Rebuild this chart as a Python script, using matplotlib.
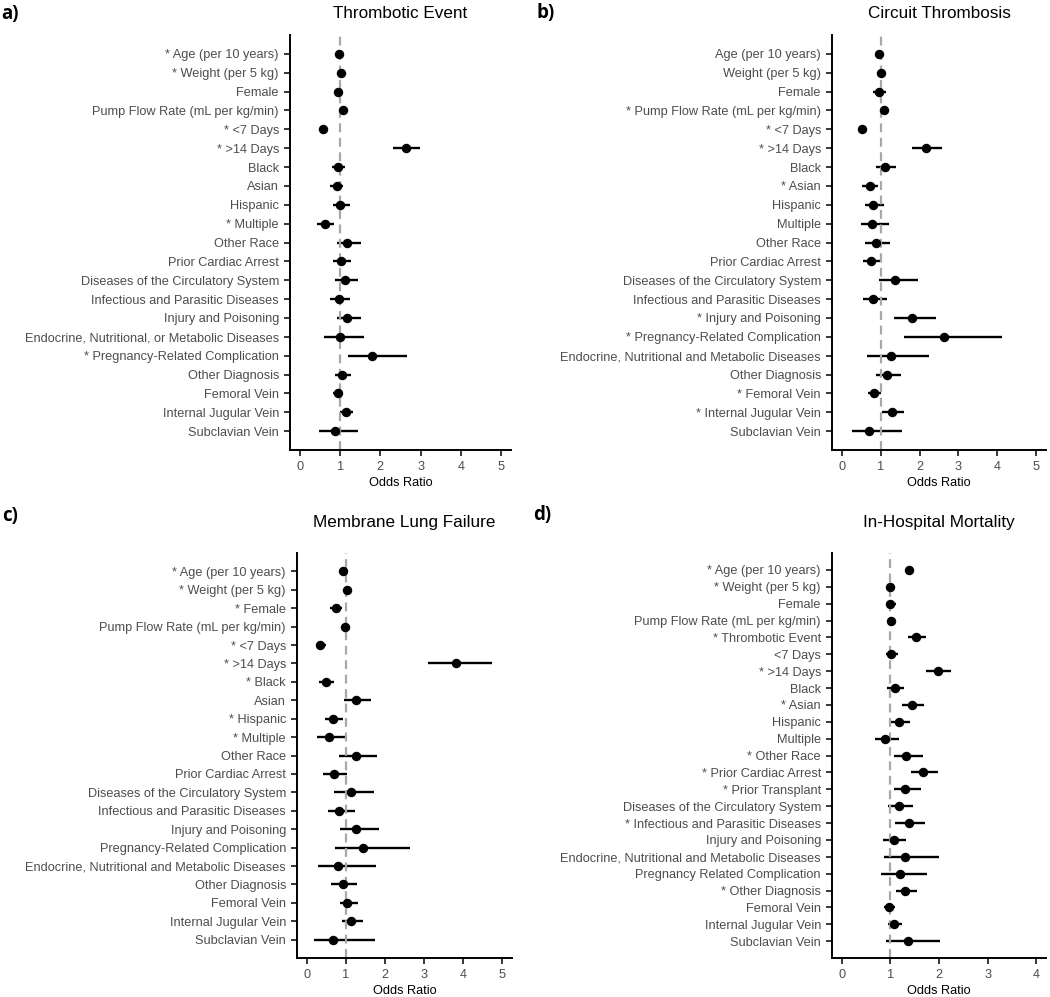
import matplotlib
matplotlib.use("Agg")
import matplotlib.pyplot as plt

plt.rcParams["font.family"] = ["Liberation Sans", "DejaVu Sans"]

W, H = 1050, 997

# a) thrombotic event
labels_a = ["* Age (per 10 years)", "* Weight (per 5 kg)", "Female", "Pump Flow Rate (mL per kg/min)",
            "* <7 Days", "* >14 Days", "Black", "Asian", "Hispanic", "* Multiple", "Other Race",
            "Prior Cardiac Arrest", "Diseases of the Circulatory System", "Infectious and Parasitic Diseases",
            "Injury and Poisoning", "Endocrine, Nutritional, or Metabolic Diseases",
            "* Pregnancy-Related Complication", "Other Diagnosis", "Femoral Vein",
            "Internal Jugular Vein", "Subclavian Vein"]
or_a = [0.98, 1.03, 0.95, 1.06, 0.58, 2.63, 0.94, 0.91, 1.00, 0.63, 1.18, 1.02, 1.11, 0.97, 1.18,
        1.00, 1.80, 1.04, 0.94, 1.14, 0.86]
lo_a = [0.95, 1.00, 0.86, 1.03, 0.52, 2.31, 0.79, 0.74, 0.82, 0.43, 0.93, 0.83, 0.86, 0.74, 0.93,
        0.60, 1.20, 0.87, 0.83, 1.00, 0.48]
hi_a = [1.01, 1.06, 1.06, 1.09, 0.65, 2.99, 1.12, 1.07, 1.24, 0.85, 1.51, 1.26, 1.44, 1.25, 1.51,
        1.60, 2.67, 1.28, 1.07, 1.31, 1.43]

# b) circuit thrombosis
labels_b = ["Age (per 10 years)", "Weight (per 5 kg)", "Female", "* Pump Flow Rate (mL per kg/min)",
            "* <7 Days", "* >14 Days", "Black", "* Asian", "Hispanic", "Multiple", "Other Race",
            "Prior Cardiac Arrest", "Diseases of the Circulatory System", "Infectious and Parasitic Diseases",
            "* Injury and Poisoning", "* Pregnancy-Related Complication",
            "Endocrine, Nutritional and Metabolic Diseases", "Other Diagnosis", "* Femoral Vein",
            "* Internal Jugular Vein", "Subclavian Vein"]
or_b = [0.97, 1.02, 0.97, 1.08, 0.51, 2.17, 1.12, 0.72, 0.81, 0.78, 0.88, 0.76, 1.38, 0.81, 1.81,
        2.62, 1.27, 1.17, 0.83, 1.29, 0.70]
lo_b = [0.94, 0.99, 0.81, 1.04, 0.42, 1.80, 0.88, 0.53, 0.59, 0.49, 0.59, 0.55, 0.97, 0.55, 1.34,
        1.61, 0.66, 0.89, 0.68, 1.03, 0.26]
hi_b = [1.00, 1.05, 1.15, 1.12, 0.63, 2.57, 1.40, 0.93, 1.09, 1.21, 1.25, 1.04, 1.95, 1.17, 2.43,
        4.12, 2.24, 1.53, 1.00, 1.59, 1.55]

# c) membrane lung failure
labels_c = ["* Age (per 10 years)", "* Weight (per 5 kg)", "* Female", "Pump Flow Rate (mL per kg/min)",
            "* <7 Days", "* >14 Days", "* Black", "Asian", "* Hispanic", "* Multiple", "Other Race",
            "Prior Cardiac Arrest", "Diseases of the Circulatory System", "Infectious and Parasitic Diseases",
            "Injury and Poisoning", "Pregnancy-Related Complication",
            "Endocrine, Nutritional and Metabolic Diseases", "Other Diagnosis", "Femoral Vein",
            "Internal Jugular Vein", "Subclavian Vein"]
or_c = [0.93, 1.02, 0.74, 0.99, 0.35, 3.83, 0.49, 1.25, 0.66, 0.57, 1.25, 0.69, 1.13, 0.83, 1.26,
        1.44, 0.79, 0.92, 1.04, 1.13, 0.68]
lo_c = [0.90, 0.99, 0.59, 0.96, 0.25, 3.11, 0.32, 0.96, 0.46, 0.27, 0.83, 0.42, 0.70, 0.54, 0.85,
        0.72, 0.29, 0.63, 0.85, 0.89, 0.19]
hi_c = [0.96, 1.05, 0.91, 1.02, 0.48, 4.75, 0.69, 1.64, 0.93, 1.02, 1.79, 1.04, 1.73, 1.24, 1.86,
        2.65, 1.76, 1.28, 1.30, 1.43, 1.74]

# d) in-hospital mortality
labels_d = ["* Age (per 10 years)", "* Weight (per 5 kg)", "Female", "Pump Flow Rate (mL per kg/min)",
            "* Thrombotic Event", "<7 Days", "* >14 Days", "Black", "* Asian", "Hispanic", "Multiple",
            "* Other Race", "* Prior Cardiac Arrest", "* Prior Transplant",
            "Diseases of the Circulatory System", "* Infectious and Parasitic Diseases",
            "Injury and Poisoning", "Endocrine, Nutritional and Metabolic Diseases",
            "Pregnancy Related Complication", "* Other Diagnosis", "Femoral Vein",
            "Internal Jugular Vein", "Subclavian Vein"]
or_d = [1.39, 0.99, 1.00, 1.02, 1.53, 1.02, 1.98, 1.09, 1.45, 1.18, 0.89, 1.33, 1.67, 1.31, 1.17,
        1.38, 1.07, 1.31, 1.19, 1.31, 0.98, 1.08, 1.36]
lo_d = [1.36, 0.96, 0.90, 0.99, 1.36, 0.90, 1.74, 0.93, 1.24, 0.97, 0.68, 1.07, 1.43, 1.08, 0.95,
        1.10, 0.85, 0.86, 0.80, 1.11, 0.87, 0.95, 0.90]
hi_d = [1.42, 1.02, 1.11, 1.05, 1.74, 1.16, 2.24, 1.28, 1.69, 1.41, 1.18, 1.67, 1.98, 1.62, 1.46,
        1.72, 1.33, 2.00, 1.76, 1.55, 1.10, 1.23, 2.02]

# tag, title, data, xmax, axes box (px), title centre y, tag (x, y)
panels = [
    ("a)", "Thrombotic Event", labels_a, or_a, lo_a, hi_a, 5, (290, 35, 511, 450), 14, (1, 14)),
    ("b)", "Circuit Thrombosis", labels_b, or_b, lo_b, hi_b, 5, (832, 35, 1046, 450), 14, (536, 13)),
    ("c)", "Membrane Lung Failure", labels_c, or_c, lo_c, hi_c, 5, (297, 553, 512, 958), 522, (2, 516)),
    ("d)", "In-Hospital Mortality", labels_d, or_d, lo_d, hi_d, 4, (832, 553, 1046, 958), 522, (533, 515)),
]

fig = plt.figure(figsize=(W / 100, H / 100), dpi=100)

for tag, title, labels, est, lo, hi, xmax, box, ty, tpos in panels:
    x0, y0, x1, y1 = box
    ax = fig.add_axes([x0 / W, (H - y1) / H, (x1 - x0) / W, (y1 - y0) / H])
    n = len(labels)
    ys = list(range(n))
    pad = xmax * 0.05
    ax.hlines(ys, lo, hi, color="black", lw=1.7, zorder=2)
    ax.axvline(1, color="#a8a8a8", lw=1.6, ls=(0, (4, 2.5)), zorder=2.5)
    ax.plot(est, ys, "o", color="black", ms=5.8, zorder=3)
    ax.set_xlim(-pad, xmax + pad)
    ax.set_ylim(n, -1)
    ax.set_xticks(range(xmax + 1))
    ax.set_yticks(ys)
    ax.set_yticklabels(labels)
    ax.tick_params(colors="black", labelcolor="#4d4d4d", labelsize=9.2, length=4, width=1.1, pad=4)
    ax.tick_params(axis="x", pad=4)
    for s in ["top", "right"]:
        ax.spines[s].set_visible(False)
    for s in ["left", "bottom"]:
        ax.spines[s].set_linewidth(1.4)
    ax.set_xlabel("Odds Ratio", fontsize=9.2, labelpad=3)
    fig.text((x0 + x1) / 2 / W, 1 - ty / H, title, fontsize=12.3, ha="center", va="center")
    fig.text(tpos[0] / W, 1 - tpos[1] / H, tag, fontsize=13.5, fontweight="bold",
             family=["Open Sans", "DejaVu Sans"], va="center", ha="left")

fig.savefig("out.png", dpi=100)
